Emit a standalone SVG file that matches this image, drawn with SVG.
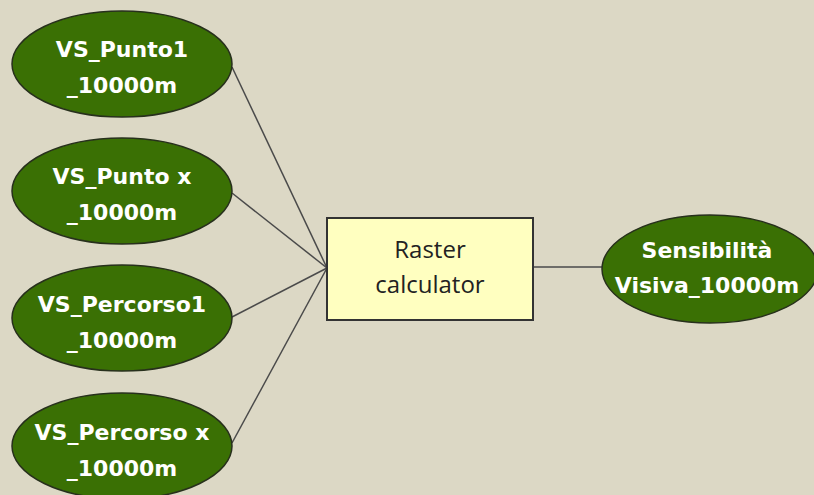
<svg xmlns="http://www.w3.org/2000/svg" width="814" height="495" viewBox="0 0 814 495">
<style>
.bg{fill:#dcd8c5}
.ell{fill:#3a7004;stroke:#27301c;stroke-width:1.5}
.et{font-family:"DejaVu Sans",Verdana,sans-serif;font-weight:bold;font-size:22px;fill:#ffffff;text-anchor:middle}
.rect{fill:#ffffc0;stroke:#333333;stroke-width:2}
.rt{font-family:"Open Sans","Liberation Sans",sans-serif;font-size:24px;fill:#222222;text-anchor:middle}
.con{stroke:#4a4a4a;stroke-width:1.5;fill:none}
</style>
<rect class="bg" x="0" y="0" width="814" height="495"/>
<g id="connectors">
<line class="con" x1="232" y1="67" x2="327" y2="268"/>
<line class="con" x1="232" y1="193" x2="327" y2="268"/>
<line class="con" x1="232" y1="317" x2="327" y2="268"/>
<line class="con" x1="232" y1="443" x2="327" y2="268"/>
<line class="con" x1="533" y1="267" x2="602" y2="267"/>
</g>
<g id="n1">
<ellipse class="ell" cx="122" cy="64" rx="110" ry="53"/>
<text class="et" x="122" y="57">VS_Punto1</text>
<text class="et" x="122" y="93">_10000m</text>
</g>
<g id="n2">
<ellipse class="ell" cx="122" cy="191" rx="110" ry="53"/>
<text class="et" x="122" y="184">VS_Punto x</text>
<text class="et" x="122" y="220">_10000m</text>
</g>
<g id="n3">
<ellipse class="ell" cx="122" cy="318" rx="110" ry="53"/>
<text class="et" x="122" y="312">VS_Percorso1</text>
<text class="et" x="122" y="348">_10000m</text>
</g>
<g id="n4">
<ellipse class="ell" cx="122" cy="446" rx="110" ry="53"/>
<text class="et" x="122" y="440">VS_Percorso x</text>
<text class="et" x="122" y="476">_10000m</text>
</g>
<g id="raster">
<rect class="rect" x="327" y="218" width="206" height="102"/>
<text class="rt" x="430" y="258">Raster</text>
<text class="rt" x="430" y="293">calculator</text>
</g>
<g id="out">
<ellipse class="ell" cx="710" cy="269" rx="108" ry="54"/>
<text class="et" x="707" y="258">Sensibilità</text>
<text class="et" x="707" y="293">Visiva_10000m</text>
</g>
</svg>
